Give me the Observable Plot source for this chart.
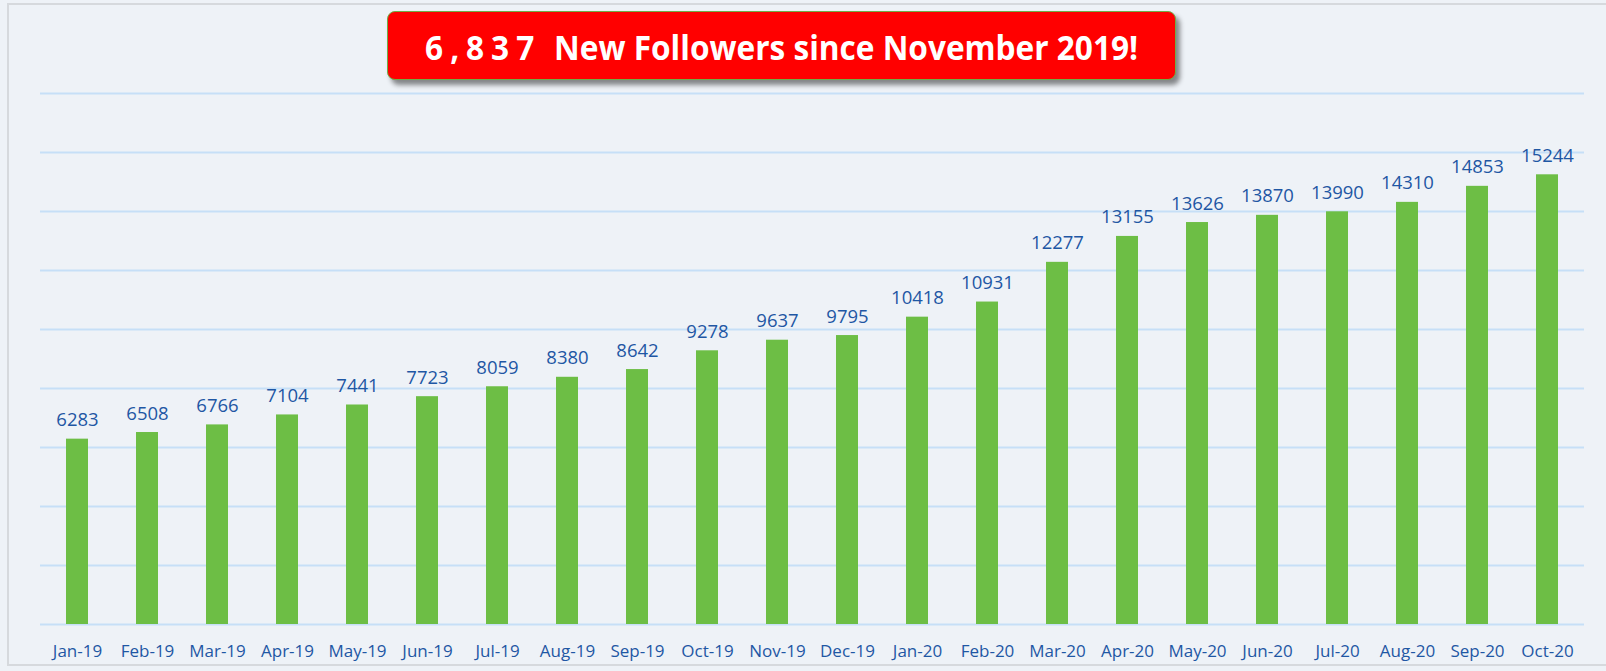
<!DOCTYPE html>
<html>
<head>
<meta charset="utf-8">
<script src="https://cdn.jsdelivr.net/npm/d3@7"></script>
<script src="https://cdn.jsdelivr.net/npm/@observablehq/plot@0.6"></script>
<style>
  html, body { margin: 0; padding: 0; background: #EEF2F7; }
  #wrap { position: relative; width: 1606px; height: 671px; overflow: hidden; background: #EEF2F7; }
  #frame { position: absolute; left: 7px; top: 3px; width: 1640px; height: 663px; border: 2px solid #D6D9DD; box-sizing: border-box; }
  #chart { position: absolute; left: 0; top: 0; }
  #title { position: absolute; left: 387px; top: 11px; width: 789px; height: 69px; box-sizing: border-box;
    background: #FF0000; border: 1.5px solid #70AD47; border-radius: 8px;
    box-shadow: 4px 5px 5px rgba(0,0,0,0.45);
    display: flex; align-items: center; justify-content: center; overflow: visible; }
  #titleText { display: inline-block; white-space: nowrap; color: #fff; font-family: "Open Sans", sans-serif;
    font-weight: 700; font-size: 34px; line-height: 1; transform-origin: center center; position: relative; top: 1px; }
  #titleText .count { letter-spacing: 0.22em; margin-right: 0.15em; }
</style>
</head>
<body>
<div id="wrap">
  <div id="frame"></div>
  <div id="chart"></div>
  <div id="title"><span id="titleText"><span class="count"></span><span class="rest"></span></span></div>
</div>
<script>
const months = ["Jan-19","Feb-19","Mar-19","Apr-19","May-19","Jun-19","Jul-19","Aug-19","Sep-19","Oct-19","Nov-19","Dec-19",
                "Jan-20","Feb-20","Mar-20","Apr-20","May-20","Jun-20","Jul-20","Aug-20","Sep-20","Oct-20"];
const followers = [6283,6508,6766,7104,7441,7723,8059,8380,8642,9278,9637,9795,
                   10418,10931,12277,13155,13626,13870,13990,14310,14853,15244];
const gridTicks = [0,2000,4000,6000,8000,10000,12000,14000,16000,18000];
const titleCount = "6,837";
const titleRest = "New Followers since November 2019!";

const data = months.map((m, i) => ({month: m, value: followers[i]}));

const chart = Plot.plot({
  width: 1606,
  height: 671,
  marginLeft: 40,
  marginRight: 22,
  marginTop: 93,
  marginBottom: 47,
  style: {background: "transparent", fontFamily: "'Open Sans', sans-serif"},
  x: {domain: months, paddingInner: 0.686, paddingOuter: 0.343, axis: null},
  y: {domain: [0, 18000], axis: null},
  marks: [
    Plot.ruleY(gridTicks, {stroke: "#C6DFF7", strokeWidth: 2}),
    Plot.barY(data, {x: "month", y: "value", fill: "#6DBE45"}),
    Plot.text(data, {x: "month", y: "value", text: d => String(d.value), lineAnchor: "bottom", dy: -13,
                     fill: "#1F57A4", fontSize: 18.5}),
    Plot.axisX({tickSize: 0, tickPadding: 20, fontSize: 17, color: "#1F57A4", label: null})
  ]
});
document.getElementById("chart").appendChild(chart);

const tt = document.getElementById("titleText");
tt.querySelector(".count").textContent = titleCount;
tt.querySelector(".rest").textContent = " " + titleRest;
const w = tt.getBoundingClientRect().width;
tt.style.transform = `scaleX(${713 / w})`;
</script>
</body>
</html>
